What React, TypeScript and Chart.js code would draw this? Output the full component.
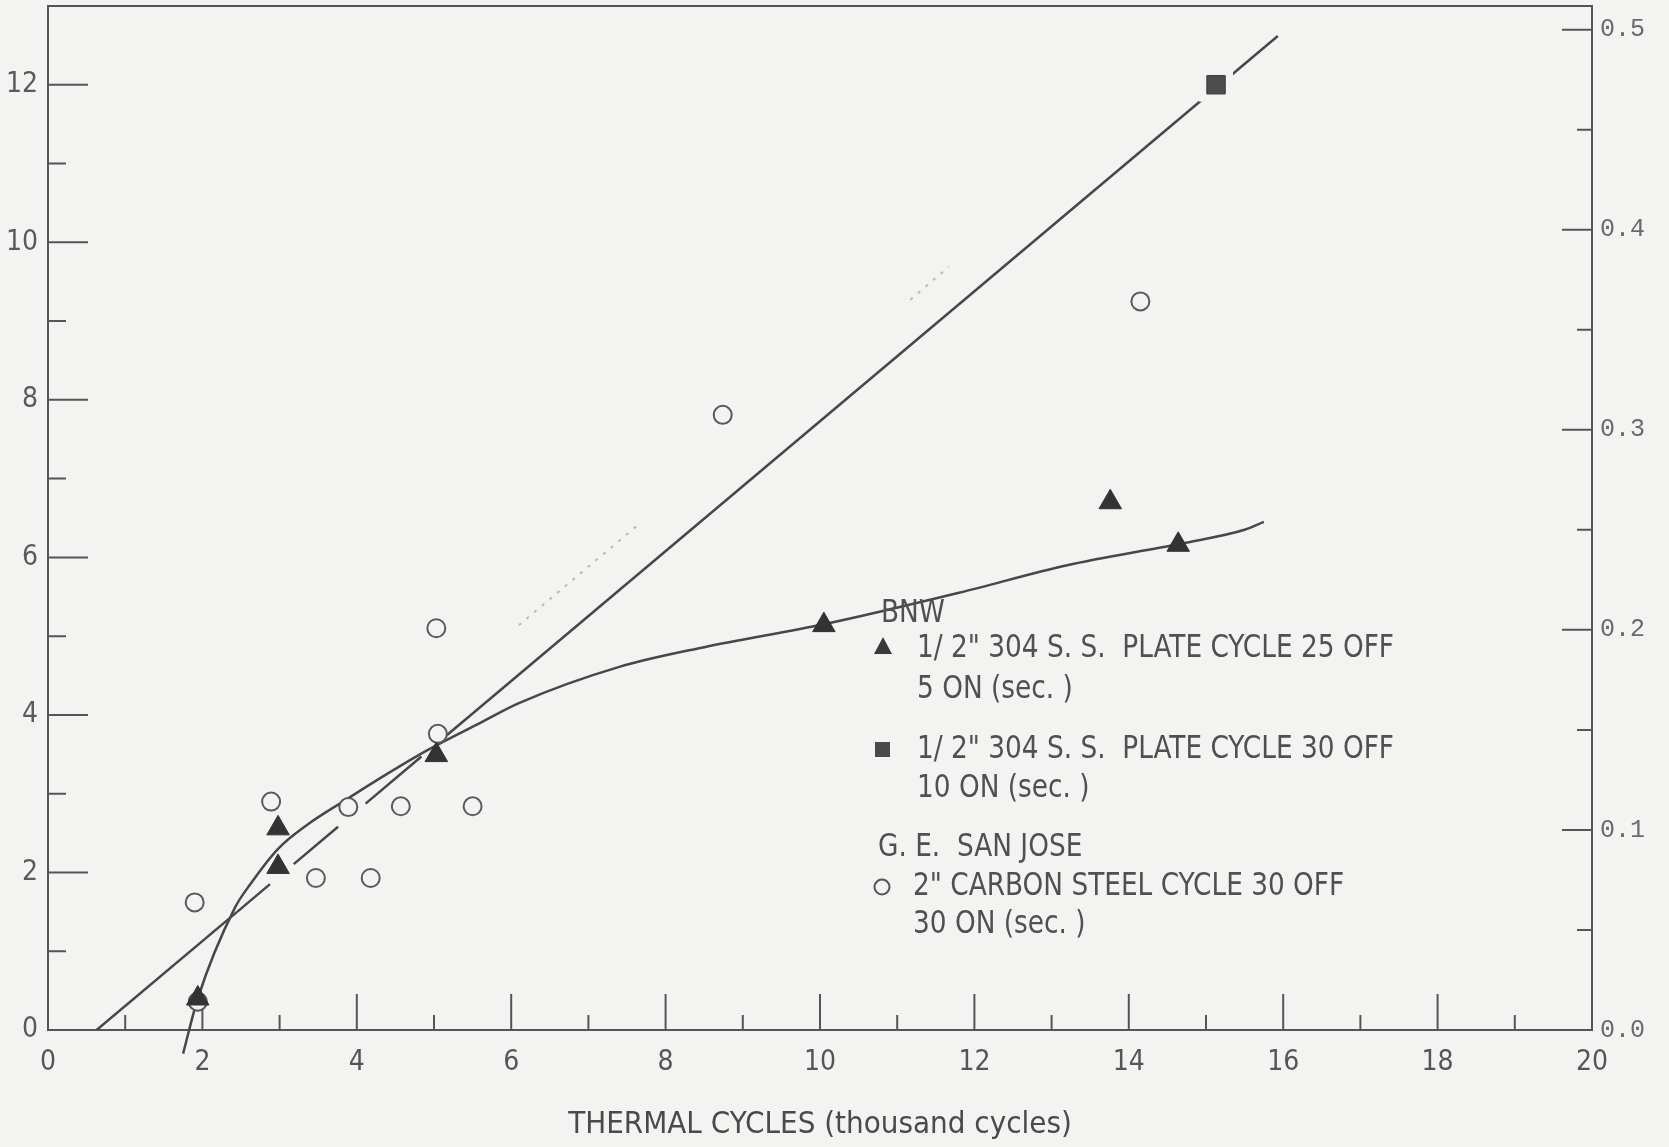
import React, { useEffect, useRef } from "react";
import { Chart, registerables } from "chart.js";

Chart.register(...registerables);

// ---------------- data ----------------
// x: thermal cycles (thousand cycles); y: crack depth (mm, left axis); right axis in inches
const X_MIN = 0;
const X_MAX = 20;
const Y_MAX_MM = 13;
const MM_PER_INCH = 25.4;

// BNW 1/2" 304 S.S. plate, cycle 25 off / 5 on (filled triangles)
const triX = [1.94, 2.98, 2.98, 5.03, 10.05, 13.76, 14.64];
const triY = [0.4, 2.56, 2.07, 3.49, 5.14, 6.7, 6.16];

// BNW 1/2" 304 S.S. plate, cycle 30 off / 10 on (filled square)
const sqX = [15.13];
const sqY = [12.0];

// G.E. San Jose 2" carbon steel, cycle 30 off / 30 on (open circles)
const circX = [1.9, 1.94, 2.89, 3.47, 3.89, 4.18, 4.57, 5.03, 5.05, 5.5, 8.74, 14.15];
const circY = [1.62, 0.36, 2.9, 1.93, 2.83, 1.93, 2.84, 5.1, 3.76, 2.84, 7.81, 9.25];

// straight trend line (solid / dashed / solid pieces)
const lineX = [0.63, 2.45, 5.15, 15.93];
const lineY = [0, 1.5, 3.73, 12.62];

// curved trend line through the triangles
const curveX = [1.75, 1.94, 2.42, 2.62, 2.98, 3.35, 3.87, 4.34, 4.91, 5.6, 6.1, 7.4, 8.5, 10.05, 11.8, 13.2, 14.7, 15.5, 15.75];
const curveY = [-0.3, 0.4, 1.55, 1.85, 2.3, 2.6, 2.93, 3.22, 3.55, 3.9, 4.15, 4.61, 4.86, 5.15, 5.55, 5.9, 6.18, 6.35, 6.45];

// faint dotted line remnants
const faintX = [6.1, 7.64, 9.4, 11.17, 11.67];
const faintY = [5.14, 6.41, null, 9.27, 9.69];

// tick label steps
const X_LABEL_STEP = 2;
const Y_LABEL_STEP = 2;
const Y2_LABEL_STEP = 0.1;

const X_TITLE = "THERMAL CYCLES (thousand cycles)";

const legendHeads = ["BNW", "G. E.  SAN JOSE"];
const legendLines = [
  "1/ 2\" 304 S. S.  PLATE CYCLE 25 OFF",
  "5 ON (sec. )",
  "1/ 2\" 304 S. S.  PLATE CYCLE 30 OFF",
  "10 ON (sec. )",
  "2\" CARBON STEEL CYCLE 30 OFF",
  "30 ON (sec. )",
];

// ---------------- styles ----------------
const BG = "#f3f3f2";
const INK = "#474747";
const NARROW = '"Liberation Sans Narrow", "DejaVu Sans Condensed", "Open Sans", sans-serif';
const MONO = '"Liberation Mono", "DejaVu Sans Mono", monospace';

const pts = (xs: number[], ys: (number | null)[]) => xs.map((x, i) => ({ x, y: ys[i] }));

const isMult = (v: number, step: number) => Math.abs(v / step - Math.round(v / step)) < 1e-6;

const framePlugin = {
  id: "frameTicks",
  beforeDraw(chart: any) {
    const { ctx, width, height } = chart;
    ctx.save();
    ctx.fillStyle = BG;
    ctx.fillRect(0, 0, width, height);
    ctx.restore();
  },
  beforeDatasetsDraw(chart: any) {
    const { ctx, chartArea } = chart;
    const { left, right, top, bottom } = chartArea;
    const xs = chart.scales.x;
    const ys = chart.scales.y;
    const y2 = chart.scales.y2;
    ctx.save();
    ctx.strokeStyle = "#555";
    ctx.lineWidth = 2;
    ctx.beginPath();
    ctx.moveTo(left, top);
    ctx.lineTo(right, top);
    ctx.lineTo(right, bottom);
    ctx.lineTo(left, bottom);
    ctx.closePath();
    ctx.stroke();

    ctx.lineWidth = 2;
    ctx.beginPath();
    xs.ticks.forEach((t: any) => {
      if (t.value <= X_MIN || t.value >= X_MAX) return;
      const px = xs.getPixelForValue(t.value);
      const len = isMult(t.value, X_LABEL_STEP) ? 36 : 15;
      ctx.moveTo(px, bottom);
      ctx.lineTo(px, bottom - len);
    });
    ys.ticks.forEach((t: any) => {
      if (t.value <= 0 || t.value >= Y_MAX_MM) return;
      const py = ys.getPixelForValue(t.value);
      const len = isMult(t.value, Y_LABEL_STEP) ? 40 : 18;
      ctx.moveTo(left, py);
      ctx.lineTo(left + len, py);
    });
    y2.ticks.forEach((t: any) => {
      if (t.value <= 0 || t.value >= y2.max - 1e-9) return;
      const py = y2.getPixelForValue(t.value);
      const len = isMult(t.value, Y2_LABEL_STEP) ? 30 : 15;
      ctx.moveTo(right, py);
      ctx.lineTo(right - len, py);
    });
    ctx.stroke();
    ctx.restore();
  },
  afterDraw(chart: any) {
    const { ctx } = chart;
    ctx.save();
    ctx.fillStyle = "#505050";
    ctx.textBaseline = "middle";
    ctx.font = `32px ${NARROW}`;
    const refW = ctx.measureText(legendLines[0]).width;
    const sx = Math.min(1, 477 / refW);
    const drawText = (s: string, x: number, y: number) => {
      ctx.save();
      ctx.translate(x, y);
      ctx.scale(sx, 1);
      ctx.fillText(s, 0, 0);
      ctx.restore();
    };
    drawText(legendHeads[0], 881, 614);
    drawText(legendHeads[1], 878, 848);
    const lineYs = [649, 690, 750, 789, 887, 925];
    const lineXs = [917, 917, 917, 917, 913, 913];
    legendLines.forEach((s, i) => drawText(s, lineXs[i], lineYs[i]));

    ctx.fillStyle = "#3a3a3a";
    ctx.beginPath();
    ctx.moveTo(883, 637);
    ctx.lineTo(892, 654);
    ctx.lineTo(874, 654);
    ctx.closePath();
    ctx.fill();
    ctx.fillStyle = "#4a4a4a";
    ctx.fillRect(875, 742, 15, 15);
    ctx.strokeStyle = "#555";
    ctx.lineWidth = 2;
    ctx.beginPath();
    ctx.arc(882, 887, 7.5, 0, Math.PI * 2);
    ctx.stroke();
    ctx.restore();
  },
};

export default function App() {
  const ref = useRef<HTMLCanvasElement | null>(null);

  useEffect(() => {
    document.body.style.margin = "0";
    document.body.style.background = BG;
    if (!ref.current) return;

    const chart = new Chart(ref.current, {
      type: "scatter",
      data: {
        datasets: [
          {
            label: "faint",
            data: pts(faintX, faintY),
            showLine: true,
            spanGaps: false,
            borderColor: "#b9b9b9",
            borderWidth: 2,
            borderDash: [3, 7],
            pointRadius: 0,
            order: 10,
          },
          {
            label: "linear fit",
            data: pts(lineX, lineY),
            showLine: true,
            borderColor: INK,
            borderWidth: 2.5,
            pointRadius: 0,
            order: 9,
            segment: {
              borderDash: (c: any) => (c.p0DataIndex === 1 ? [43, 31, 58, 36, 73, 80] : undefined),
            },
          },
          {
            label: "curve fit",
            data: pts(curveX, curveY),
            showLine: true,
            borderColor: INK,
            borderWidth: 2.5,
            pointRadius: 0,
            tension: 0.4,
            cubicInterpolationMode: "monotone",
            clip: false,
            order: 8,
          },
          {
            label: "square halo",
            data: pts(sqX, sqY),
            pointStyle: "rect",
            pointRadius: 24,
            backgroundColor: BG,
            borderWidth: 0,
            order: 5,
          },
          {
            label: "G.E. San Jose",
            data: pts(circX, circY),
            pointStyle: "circle",
            pointRadius: 9,
            backgroundColor: BG,
            borderColor: "#5a5a5a",
            borderWidth: 2,
            order: 4,
          },
          {
            label: "BNW 25/5",
            data: pts(triX, triY),
            pointStyle: "triangle",
            pointRadius: 13,
            backgroundColor: "#333",
            borderColor: "#333",
            borderWidth: 1,
            order: 3,
          },
          {
            label: "BNW 30/10",
            data: pts(sqX, sqY),
            pointStyle: "rect",
            pointRadius: 13,
            backgroundColor: "#4d4d4d",
            borderColor: "#3a3a3a",
            borderWidth: 1,
            order: 2,
          },
        ] as any,
      },
      options: {
        animation: false,
        responsive: false,
        devicePixelRatio: 1,
        layout: { autoPadding: false, padding: { top: 6, left: 0, right: 0, bottom: 0 } },
        plugins: {
          legend: { display: false },
          tooltip: { enabled: false },
        },
        scales: {
          x: {
            type: "linear",
            position: "bottom",
            min: X_MIN,
            max: X_MAX,
            grid: { display: false, drawTicks: false },
            border: { display: false },
            ticks: {
              stepSize: 1,
              includeBounds: false,
              autoSkip: false,
              maxRotation: 0,
              padding: 16,
              color: "#555",
              font: { family: NARROW, size: 28 },
              callback: (v: any) => (isMult(Number(v), X_LABEL_STEP) ? String(v) : ""),
            },
            title: {
              display: true,
              text: X_TITLE,
              color: "#4a4a4a",
              font: { family: NARROW, size: 31 },
              padding: { top: 0, bottom: 3 },
            },
            afterFit: (s: any) => {
              s.height = 117;
            },
          },
          y: {
            type: "linear",
            position: "left",
            min: 0,
            max: Y_MAX_MM,
            grid: { display: false, drawTicks: false },
            border: { display: false },
            ticks: {
              stepSize: 1,
              includeBounds: false,
              autoSkip: false,
              padding: 10,
              color: "#5a5a5a",
              font: { family: NARROW, size: 28 },
              callback: (v: any) => (isMult(Number(v), Y_LABEL_STEP) ? String(v) : ""),
            },
            afterFit: (s: any) => {
              s.width = 48;
              s.paddingTop = 0;
              s.paddingBottom = 0;
            },
          },
          y2: {
            type: "linear",
            position: "right",
            min: 0,
            max: Y_MAX_MM / MM_PER_INCH,
            grid: { display: false, drawTicks: false },
            border: { display: false },
            ticks: {
              stepSize: 0.05,
              includeBounds: false,
              autoSkip: false,
              padding: 8,
              color: "#6a6a6a",
              font: { family: MONO, size: 25 },
              callback: (v: any) => (isMult(Number(v), Y2_LABEL_STEP) ? Number(v).toFixed(1) : ""),
            },
            afterFit: (s: any) => {
              s.width = 77;
              s.paddingTop = 0;
              s.paddingBottom = 0;
            },
          },
        },
      } as any,
      plugins: [framePlugin],
    });

    return () => chart.destroy();
  }, []);

  return (
    <div style={{ width: 1669, height: 1147, background: BG }}>
      <canvas ref={ref} width={1669} height={1147} style={{ display: "block" }} />
    </div>
  );
}
